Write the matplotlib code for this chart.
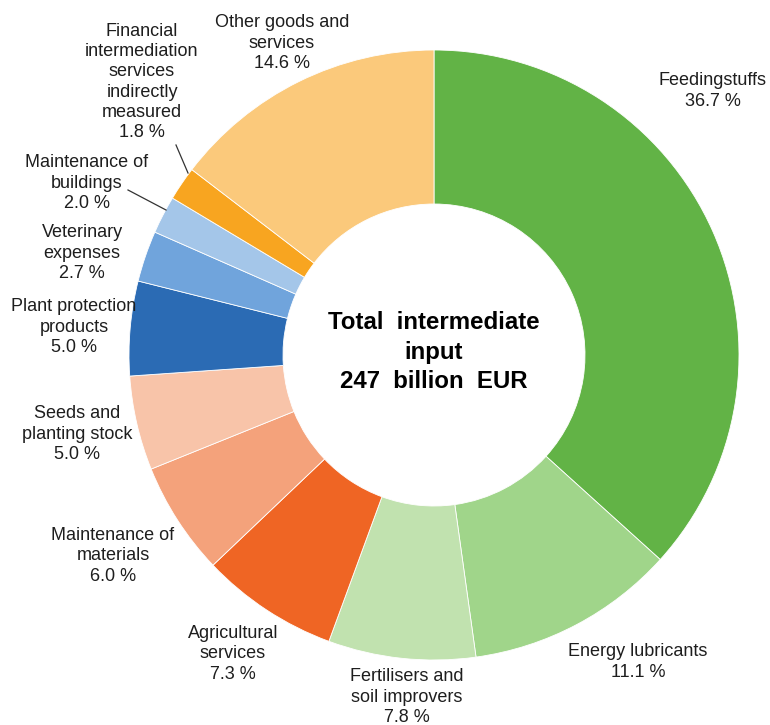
import matplotlib.pyplot as plt

plt.rcParams['font.family'] = ['Liberation Sans', 'DejaVu Sans']

# data, clockwise from 12 o'clock
labels = ['Feedingstuffs', 'Energy lubricants', 'Fertilisers and\nsoil improvers',
          'Agricultural\nservices', 'Maintenance of\nmaterials', 'Seeds and\nplanting stock',
          'Plant protection\nproducts', 'Veterinary\nexpenses', 'Maintenance of\nbuildings',
          'Financial\nintermediation\nservices\nindirectly\nmeasured', 'Other goods and\nservices']
shares = [36.7, 11.1, 7.8, 7.3, 6.0, 5.0, 5.0, 2.7, 2.0, 1.8, 14.6]
colors = ['#62B346', '#A0D58A', '#C1E2AF', '#EF6524', '#F4A27B', '#F8C4A9',
          '#2B6BB4', '#70A4DC', '#A4C6E9', '#F8A520', '#FBC97B']
center_text = 'Total  intermediate\ninput\n247  billion  EUR'

# label placement in pixels (x, y from top)
label_pos = [(713, 91), (638, 662), (407, 697), (233, 654), (113, 556), (77, 434),
             (74, 327), (82, 253), (87, 183), (142, 82), (282, 43)]
# leader lines for the two thin slices (text end -> slice)
leaders = {8: [(128, 190), (166, 210)], 9: [(176, 145), (188, 173)]}

W, H = 770, 725
cx, cy, R, hole = 434, 355, 305, 151

fig = plt.figure(figsize=(W / 100, H / 100), dpi=100)
ax = fig.add_axes([0, 0, 1, 1])

ax.pie(shares, colors=colors, startangle=90, counterclock=False,
       center=(cx, H - cy), radius=R, frame=True,
       wedgeprops=dict(width=R - hole, edgecolor='white', linewidth=0.6))
ax.set_xlim(0, W)
ax.set_ylim(0, H)
ax.set_aspect('equal')
ax.axis('off')

for lab, val, (x, y) in zip(labels, shares, label_pos):
    ax.text(x, H - y, '%s\n%.1f %%' % (lab, val), ha='center', va='center',
            fontsize=13, color='#1e1e1e', linespacing=1.26)

for k, pts in leaders.items():
    ax.plot([pts[0][0], pts[1][0]], [H - pts[0][1], H - pts[1][1]],
            color='#333333', lw=0.9)

ax.text(cx, H - 352, center_text, ha='center', va='center', fontsize=17.3,
        fontweight='bold', color='black', linespacing=1.38)

fig.savefig('out.png', dpi=100)
